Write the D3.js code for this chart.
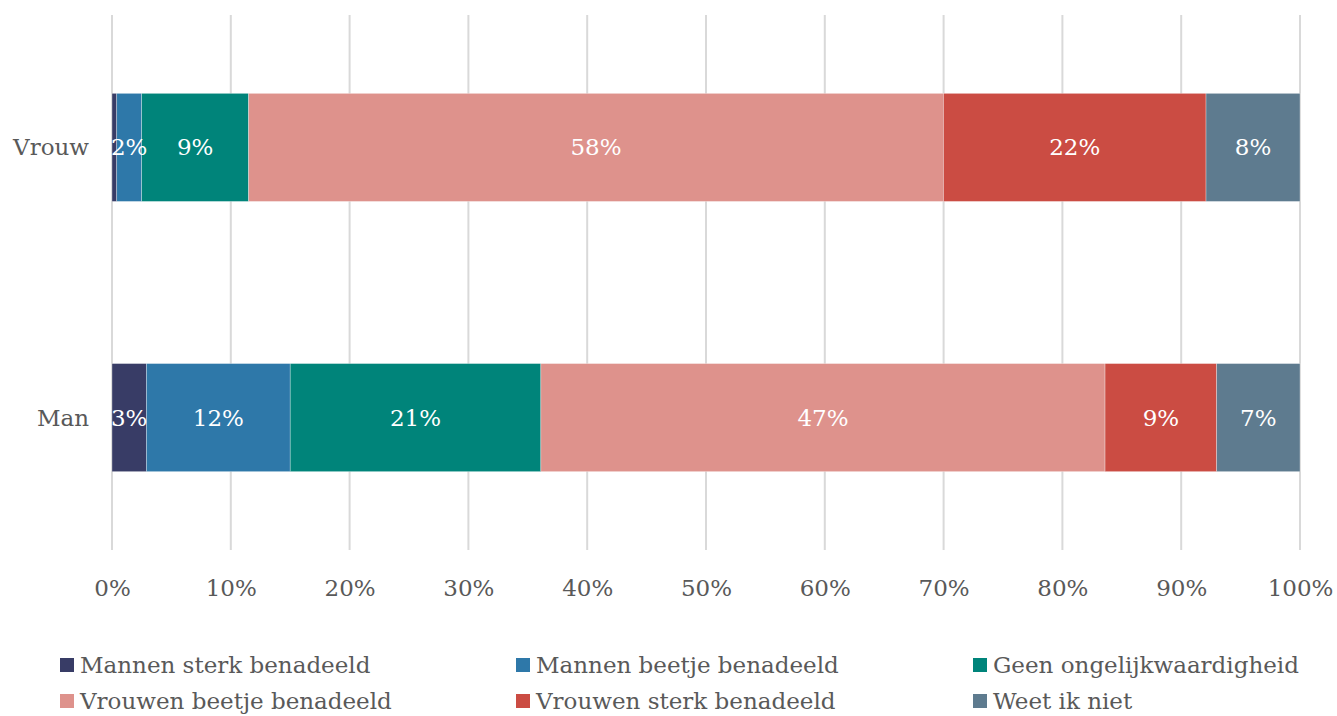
<!DOCTYPE html>
<html>
<head>
<meta charset="utf-8">
<script src="https://cdn.jsdelivr.net/npm/d3@7"></script>
<style>
  body { margin: 0; background: #fff; }
  svg text { font-family: "DejaVu Serif", "Liberation Serif", serif; }
</style>
</head>
<body>
<div id="chart"></div>
<script>
// data
var groups = ["Vrouw", "Man"];
var categories = ["Mannen sterk benadeeld", "Mannen beetje benadeeld", "Geen ongelijkwaardigheid",
                  "Vrouwen beetje benadeeld", "Vrouwen sterk benadeeld", "Weet ik niet"];
var vrouwValues = [0.4, 2.1, 9.0, 58.49, 22.1, 7.91];
var manValues = [2.9, 12.1, 21.1, 47.49, 9.4, 7.01];
var colors = ["#383c66", "#2e78a9", "#00847a", "#de928c", "#cb4c43", "#5e7b8f"];
var xTicks = [0, 10, 20, 30, 40, 50, 60, 70, 80, 90, 100];

var W = 1337, H = 716;
var margin = { top: 15, right: 37, bottom: 166, left: 112 };
var width = W - margin.left - margin.right,
    height = H - margin.top - margin.bottom;

var svg = d3.select("#chart").append("svg")
    .attr("width", W)
    .attr("height", H);

var g = svg.append("g")
    .attr("transform", "translate(" + margin.left + "," + margin.top + ")");

var x = d3.scaleLinear().domain([0, 100]).range([0, width]);
var y = d3.scaleBand().domain(groups).range([0, height]).paddingInner(0.6).paddingOuter(0.29);

// gridlines
g.selectAll(".grid").data(xTicks).enter().append("line")
    .attr("x1", function (d) { return x(d); })
    .attr("x2", function (d) { return x(d); })
    .attr("y1", 0)
    .attr("y2", height)
    .attr("stroke", "#d9d9d9")
    .attr("stroke-width", 2);

// x axis labels
var xAxis = g.append("g")
    .attr("transform", "translate(0," + height + ")")
    .call(d3.axisBottom(x).tickValues(xTicks).tickSize(0).tickPadding(30)
        .tickFormat(function (d) { return d + "%"; }));
xAxis.select(".domain").remove();
xAxis.selectAll("text")
    .attr("fill", "#595959")
    .style("font-size", "23px")
    .style("font-family", "'DejaVu Serif', serif");

// y labels
g.selectAll(".ylab").data(groups).enter().append("text")
    .attr("x", -23)
    .attr("y", function (d) { return y(d) + y.bandwidth() / 2; })
    .attr("dy", "0.35em")
    .attr("text-anchor", "end")
    .attr("fill", "#595959")
    .style("font-size", "23px")
    .text(function (d) { return d; });

// stacked bars
var rows = [vrouwValues, manValues];
rows.forEach(function (vals, r) {
    var acc = 0;
    var segs = vals.map(function (v, i) {
        var s = { start: acc, value: v, color: colors[i] };
        acc += v;
        return s;
    });
    var row = g.append("g");
    row.selectAll("rect").data(segs).enter().append("rect")
        .attr("x", function (d) { return x(d.start); })
        .attr("width", function (d) { return x(d.start + d.value) - x(d.start); })
        .attr("y", y(groups[r]))
        .attr("height", y.bandwidth())
        .attr("fill", function (d) { return d.color; })
        .attr("stroke", "rgba(255,255,255,0.5)")
        .attr("stroke-width", 0.6);
    row.selectAll("text").data(segs.filter(function (d) { return d.value >= 1; })).enter().append("text")
        .attr("x", function (d) { return x(d.start + d.value / 2); })
        .attr("y", y(groups[r]) + y.bandwidth() / 2)
        .attr("dy", "0.35em")
        .attr("text-anchor", "middle")
        .attr("fill", "#fff")
        .style("font-size", "23px")
        .text(function (d) { return Math.round(d.value) + "%"; });
});

// legend
var legend = svg.append("g");
var colX = [60, 516, 973], rowY = [665, 701];
categories.forEach(function (c, i) {
    var lx = colX[i % 3], ly = rowY[Math.floor(i / 3)];
    legend.append("rect")
        .attr("x", lx).attr("y", ly - 7)
        .attr("width", 14).attr("height", 14)
        .attr("fill", colors[i]);
    legend.append("text")
        .attr("x", lx + 20).attr("y", ly)
        .attr("dy", "0.35em")
        .attr("fill", "#595959")
        .style("font-size", "23px")
        .text(c);
});
</script>
</body>
</html>
